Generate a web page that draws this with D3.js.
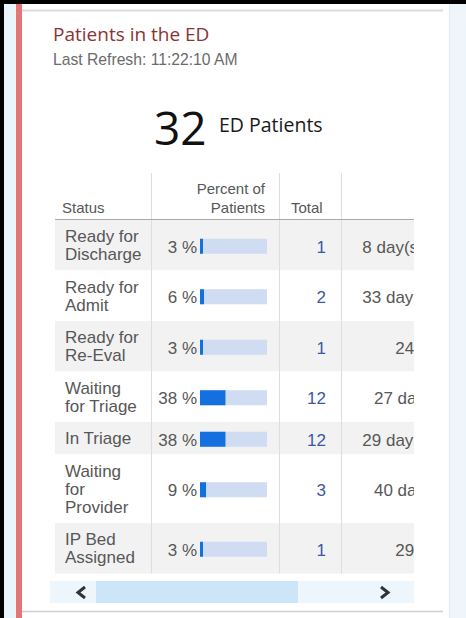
<!DOCTYPE html>
<html>
<head>
<meta charset="utf-8">
<script src="https://cdn.jsdelivr.net/npm/d3@7"></script>
<style>
  html, body { margin: 0; padding: 0; background: #fff; }
  svg { display: block; }
</style>
</head>
<body>
<svg id="chart" width="466" height="618"></svg>
<script>
// ---- data ----
const titleText = "Patients in the ED";
const refreshText = "Last Refresh: 11:22:10 AM";
const patientCount = 32;
const countLabel = "ED Patients";
const headers = ["Status", "Percent of Patients", "Total"];
const statuses = ["Ready for Discharge", "Ready for Admit", "Ready for Re-Eval",
  "Waiting for Triage", "In Triage", "Waiting for Provider", "IP Bed Assigned"];
const percents = [3, 6, 3, 38, 38, 9, 3];
const totals = [1, 2, 1, 12, 12, 3, 1];
const waits = ["8 day(s) 21 hr(s)", "33 day(s) 2 hr(s)", "24 hr(s) 9 m",
  "27 day(s) 11 hr", "29 day(s) 2 hr(s)", "40 day(s) 11 hr", "29 hr(s) 9 m"];

// ---- layout / style ----
const W = 466, H = 618;
const svg = d3.select("#chart");
const cellFont = "'Liberation Sans', Arial, sans-serif";
const uiFont = "'Open Sans', 'Noto Sans', sans-serif";
const textGrey = "#575757";

// frame
svg.append("rect").attr("x", 0).attr("y", 0).attr("width", W).attr("height", H).attr("fill", "#fff");
svg.append("rect").attr("x", 4).attr("y", 0).attr("width", 12).attr("height", H).attr("fill", "#eaf4fb");
svg.append("rect").attr("x", 450).attr("y", 0).attr("width", 16).attr("height", H).attr("fill", "#eef6fc");
svg.append("line").attr("x1", 449.5).attr("x2", 449.5).attr("y1", 0).attr("y2", H).attr("stroke", "#e3e8ee");
svg.append("rect").attr("x", 16).attr("y", 0).attr("width", 6).attr("height", H).attr("fill", "#e57474");
svg.append("rect").attr("x", 0).attr("y", 0).attr("width", 4).attr("height", H).attr("fill", "#000");
svg.append("rect").attr("x", 0).attr("y", 0).attr("width", W).attr("height", 4).attr("fill", "#000");
svg.append("line").attr("x1", 22).attr("x2", 443).attr("y1", 10.5).attr("y2", 10.5).attr("stroke", "#dcdcdc").attr("stroke-width", 2);
svg.append("line").attr("x1", 22).attr("x2", 443).attr("y1", 611.5).attr("y2", 611.5).attr("stroke", "#cfcfcf").attr("stroke-width", 1.5);

// title
svg.append("text").attr("x", 53).attr("y", 41).text(titleText)
  .attr("font-family", uiFont).attr("font-size", 19).attr("fill", "#8a3336");
svg.append("text").attr("x", 53).attr("y", 65).text(refreshText)
  .attr("font-family", cellFont).attr("font-size", 15.7).attr("fill", "#6b6b6b");

// big count
svg.append("text").attr("x", 154).attr("y", 145).text(patientCount)
  .attr("font-family", uiFont).attr("font-size", 46).attr("fill", "#111");
svg.append("text").attr("x", 219).attr("y", 132).text(countLabel)
  .attr("font-family", uiFont).attr("font-size", 19.5).attr("fill", "#1a1a1a");

// ---- table ----
const tableLeft = 55, tableRight = 414, headerBottom = 219.5;
const colSep = [151, 279, 341];
const lineH = 18, pad = 14.5, maxLabelW = 77;

// measure + wrap labels
const measurer = svg.append("text").attr("font-family", cellFont).attr("font-size", 17).attr("opacity", 0);
function wrap(str) {
  const words = str.split(" ");
  const lines = [];
  let cur = "";
  words.forEach(w => {
    const test = cur ? cur + " " + w : w;
    measurer.text(test);
    if (cur && measurer.node().getComputedTextLength() > maxLabelW) {
      lines.push(cur); cur = w;
    } else cur = test;
  });
  if (cur) lines.push(cur);
  return lines;
}
const rows = statuses.map((s, i) => ({
  status: s, lines: wrap(s), pct: percents[i], total: totals[i], wait: waits[i], i
}));
measurer.remove();
let yAcc = 220;
rows.forEach(r => { r.h = r.lines.length * lineH + pad; r.y = yAcc; yAcc += r.h; });
const tableBottom = yAcc;

const defs = svg.append("defs");
defs.append("clipPath").attr("id", "tclip").append("rect")
  .attr("x", tableLeft).attr("y", 150).attr("width", tableRight - tableLeft).attr("height", 430);

const tbl = svg.append("g").attr("clip-path", "url(#tclip)");

// row backgrounds
tbl.selectAll("rect.rowbg").data(rows).join("rect")
  .attr("class", "rowbg")
  .attr("x", tableLeft).attr("width", tableRight - tableLeft)
  .attr("y", d => d.y).attr("height", d => d.h)
  .attr("fill", d => d.i % 2 === 0 ? "#f2f2f2" : "#fff");

// column separators
tbl.selectAll("line.sep").data(colSep).join("line")
  .attr("class", "sep")
  .attr("x1", d => d + 0.5).attr("x2", d => d + 0.5)
  .attr("y1", 173).attr("y2", tableBottom)
  .attr("stroke", "#dedede");

// header
const hdr = tbl.append("g").attr("font-family", cellFont).attr("font-size", 15).attr("fill", textGrey);
hdr.append("text").attr("x", 62).attr("y", 213).text(headers[0]);
const pctHdr = hdr.append("text").attr("text-anchor", "end");
pctHdr.append("tspan").attr("x", 265).attr("y", 194).text("Percent of");
pctHdr.append("tspan").attr("x", 265).attr("y", 213).text("Patients");
hdr.append("text").attr("x", 291).attr("y", 213).text(headers[2]);
tbl.append("line").attr("x1", tableLeft).attr("x2", tableRight)
  .attr("y1", headerBottom).attr("y2", headerBottom).attr("stroke", "#a9a9a9").attr("stroke-width", 1.2);

// status labels
tbl.selectAll("text.status").data(rows).join("text")
  .attr("class", "status")
  .attr("font-family", cellFont).attr("font-size", 17).attr("fill", textGrey)
  .each(function (d) {
    const mid = d.y + d.h / 2;
    const first = mid - (d.lines.length - 1) * lineH / 2 + 6;
    d3.select(this).selectAll("tspan").data(d.lines).join("tspan")
      .attr("x", 65).attr("y", (l, k) => first + k * lineH).text(l => l);
  });

// percent text + bars
const x = d3.scaleLinear().domain([0, 100]).range([0, 67]);
const barX = 200, barH = 15;
tbl.selectAll("text.pct").data(rows).join("text")
  .attr("class", "pct")
  .attr("x", 197).attr("y", d => d.y + d.h / 2 + 7.5)
  .attr("text-anchor", "end")
  .attr("font-family", cellFont).attr("font-size", 17).attr("fill", textGrey)
  .text(d => d.pct + " %");
tbl.selectAll("rect.track").data(rows).join("rect")
  .attr("class", "track")
  .attr("x", barX).attr("width", x(100))
  .attr("y", d => d.y + d.h / 2 - 6.5).attr("height", barH)
  .attr("fill", "#cfdcf1");
tbl.selectAll("rect.fill").data(rows).join("rect")
  .attr("class", "fill")
  .attr("x", barX).attr("width", d => Math.max(3, x(d.pct)))
  .attr("y", d => d.y + d.h / 2 - 6.5).attr("height", barH)
  .attr("fill", "#1570df");

// totals
tbl.selectAll("text.total").data(rows).join("text")
  .attr("class", "total")
  .attr("x", 326).attr("y", d => d.y + d.h / 2 + 7.5)
  .attr("text-anchor", "end")
  .attr("font-family", cellFont).attr("font-size", 17).attr("fill", "#3b57a6")
  .text(d => d.total);

// wait column (scrolled, clipped)
tbl.selectAll("text.wait").data(rows).join("text")
  .attr("class", "wait")
  .attr("x", 487).attr("y", d => d.y + d.h / 2 + 7.5)
  .attr("text-anchor", "end")
  .attr("font-family", cellFont).attr("font-size", 17).attr("fill", textGrey)
  .text(d => d.wait);

// scrollbar
const sbY = 581, sbH = 22;
svg.append("rect").attr("x", 50).attr("y", sbY).attr("width", tableRight - 50).attr("height", sbH).attr("fill", "#eef6fd");
svg.append("rect").attr("x", 96).attr("y", sbY).attr("width", 202).attr("height", sbH).attr("fill", "#cde5f8");
svg.append("path").attr("d", `M85,${sbY + 6} L78,${sbY + 11.5} L85,${sbY + 17}`)
  .attr("fill", "none").attr("stroke", "#333").attr("stroke-width", 3);
svg.append("path").attr("d", `M381,${sbY + 6} L388,${sbY + 11.5} L381,${sbY + 17}`)
  .attr("fill", "none").attr("stroke", "#333").attr("stroke-width", 3);
</script>
</body>
</html>
